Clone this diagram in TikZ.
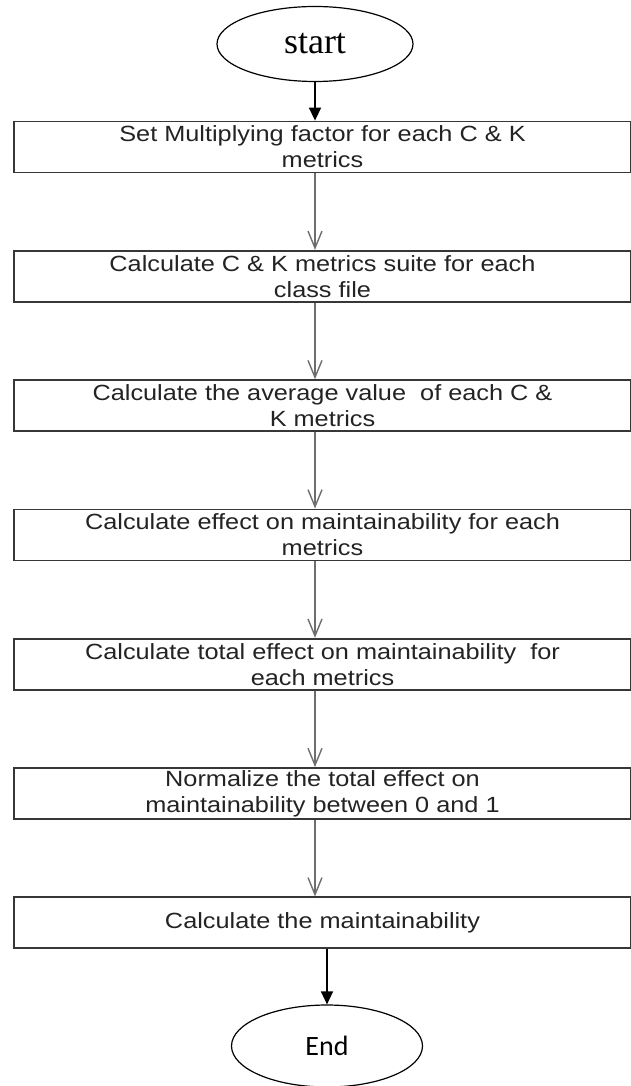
\documentclass[tikz,border=0pt]{standalone}
\usepackage{fontspec}
\setmainfont{Liberation Serif}
\newfontfamily\stepfont[FakeStretch=1.15]{Liberation Sans}
\newfontfamily\endfont{Carlito}
\usetikzlibrary{arrows.meta,positioning,shapes.geometric}
\definecolor{boxline}{RGB}{55,55,55}
\definecolor{steptext}{RGB}{35,35,35}
\definecolor{flowgray}{RGB}{110,110,110}

\begin{document}
\begin{tikzpicture}[
    node distance=76.5pt,
    stepbox/.style={draw=boxline,line width=1.8pt,minimum width=617pt,
      minimum height=51pt,inner sep=1pt,align=center,text=steptext,
      font=\stepfont\fontsize{22}{26}\selectfont},
    terminal/.style={draw,ellipse,line width=1.2pt,inner sep=0pt},
    flow/.style={-{Straight Barb[length=17pt,width=14pt]},line width=1.4pt,draw=flowgray},
    thickarrow/.style={-{Triangle[length=13pt,width=12pt]},line width=1.6pt}
  ]
    \useasboundingbox (0,0) rectangle (631pt,-1086pt);
    \node[terminal,minimum width=196pt,minimum height=75pt,
      font=\fontsize{36}{40}\selectfont] (start) at (315pt,-44pt) {start};
    \node[stepbox] (s1) at (322.5pt,-147pt) {Set Multiplying factor for each C \& K\\metrics};
    \node[stepbox,below=of s1] (s2) {Calculate C \& K metrics suite for each\\class file};
    \node[stepbox,below=of s2] (s3) {Calculate the average value\ \ of each C \&\\K metrics};
    \node[stepbox,below=of s3] (s4) {Calculate effect on maintainability for each\\metrics};
    \node[stepbox,below=of s4] (s5) {Calculate total effect on maintainability\ \ for\\each metrics};
    \node[stepbox,below=of s5] (s6) {Normalize the total effect on\\maintainability between 0 and 1};
    \node[stepbox,below=of s6] (s7) {Calculate the maintainability};
    \node[terminal,minimum width=191pt,minimum height=82pt,
      font=\endfont\fontsize{28}{32}\selectfont] (end) at (327pt,-1046pt) {End};
    \draw[thickarrow] (start) -- (start |- s1.north);
    \foreach \a/\b in {s1/s2,s2/s3,s3/s4,s4/s5,s5/s6,s6/s7}
      \draw[flow] (\a.south -| start) -- (\b.north -| start);
    \draw[thickarrow] (s7.south -| end) -- (end);
\end{tikzpicture}
\end{document}
